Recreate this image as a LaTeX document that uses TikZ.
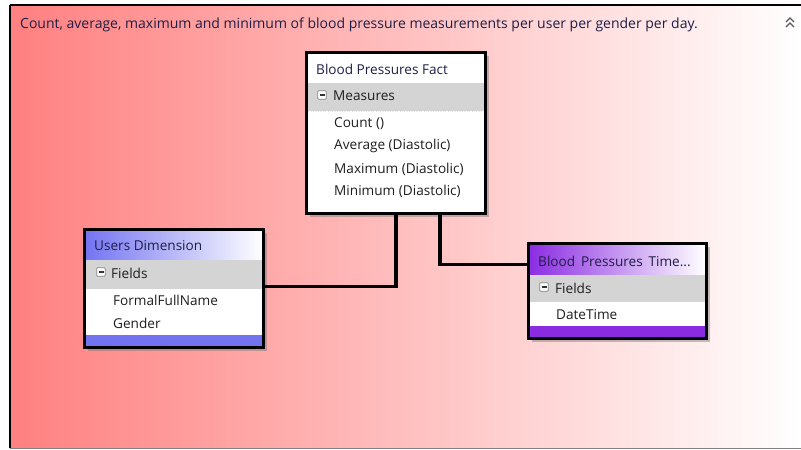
\documentclass[tikz,border=0pt]{standalone}
\usepackage{fontspec}
\setmainfont{Open Sans}
\usetikzlibrary{calc}
\definecolor{panelred}{RGB}{255,128,128}
\definecolor{bandgrey}{RGB}{212,212,212}
\definecolor{dimblue}{RGB}{115,115,242}
\definecolor{timepurple}{RGB}{138,43,226}
\definecolor{navytext}{RGB}{30,30,70}
\definecolor{itemtext}{RGB}{30,30,30}
\definecolor{shadowgrey}{RGB}{120,120,120}
\tikzset{
  boxframe/.style={draw=black, line width=3pt, fill=none, inner sep=0pt},
  boxshadow/.style={fill=shadowgrey, fill opacity=0.45, draw=none},
  link/.style={draw=black, line width=3.2pt},
  title/.style={anchor=west, inner sep=0pt, font=\fontsize{13.6}{15}\selectfont, text=navytext},
  item/.style={anchor=west, inner sep=0pt, font=\fontsize{13.6}{15}\selectfont, text=itemtext},
  caption/.style={anchor=west, inner sep=0pt, font=\fontsize{14}{16}\selectfont, text=navytext},
}
% small collapse box with a minus sign
\newcommand{\minusicon}[2]{%
  \draw[draw=gray, fill=white, line width=0.8pt, rounded corners=1pt] (#1-4.3,#2-4.3) rectangle (#1+4.3,#2+4.3);
  \draw[line width=1.2pt, black!80] (#1-2.5,#2) -- (#1+2.5,#2);}
\begin{document}
\begin{tikzpicture}[x=1pt,y=-1pt]
\useasboundingbox (0,0) rectangle (801,450);
\fill[white] (0,0) rectangle (801,450);
% panel background
\shade[left color=panelred, right color=white] (11,6) rectangle (801,448);
\draw[black, line width=2pt] (10,5) -- (801,5);
\draw[black, line width=2pt] (10,5) -- (10,448);
\draw[gray, line width=1.5pt] (10,448.5) -- (801,448.5);
\node[caption] (desc) at (20,24.5) {Count, average, maximum and minimum of blood pressure measurements per user per gender per day.};
% collapse chevrons
\node[inner sep=0pt, minimum size=10pt] (chev) at (790,23) {};
\draw[gray!70!black, line width=1.3pt] ($(chev)+(-4,-1)$) -- ($(chev)+(0,-5)$) -- ($(chev)+(4,-1)$);
\draw[gray!70!black, line width=1.3pt] ($(chev)+(-4,4)$) -- ($(chev)+(0,0)$) -- ($(chev)+(4,4)$);

% shadows
\fill[boxshadow] (310,56) rectangle (489,217);
\fill[boxshadow] (88,233) rectangle (267,351);
\fill[boxshadow] (532,247) rectangle (710,342);

% box outlines as named nodes, connectors between them
\node[minimum width=179pt, minimum height=161pt, inner sep=0pt] (fact) at (395.5,132.5) {};
\node[minimum width=179pt, minimum height=118pt, inner sep=0pt] (users) at (173.5,288) {};
\node[minimum width=178pt, minimum height=95pt, inner sep=0pt] (time) at (617,290.5) {};
\coordinate (factL) at ($(fact.south)+(0.5,0)$);
\coordinate (factR) at ($(fact.south)+(44.5,0)$);
\coordinate (timeIn) at ($(time.north west)+(0,22)$);
\coordinate (usersIn) at ($(users.north east)+(0,58)$);
\draw[link] (factL) |- (usersIn);
\draw[link] (factR) |- (timeIn);

% fact box
\fill[white] (fact.north west) rectangle (fact.south east);
\fill[bandgrey] (306,83) rectangle (485,111);
\draw[white!90!black, dotted] (306,111) -- (485,111);
\node[title] (factT) at (316,69) {Blood Pressures Fact};
\minusicon{322}{95}
\node[item] (factM) at (333,96) {Measures};
\node[item] (f1) at (334,124) {Count ()};
\node[item] (f2) at (334,146) {Average (Diastolic)};
\node[item] (f3) at (334,169) {Maximum (Diastolic)};
\node[item] (f4) at (334,191) {Minimum (Diastolic)};
\node[boxframe, minimum width=179pt, minimum height=161pt] at (fact) {};

% users dimension box
\fill[white] (users.north west) rectangle (users.south east);
\shade[left color=dimblue, right color=white] (84,229) rectangle (263,260);
\fill[bandgrey] (84,260) rectangle (263,289);
\fill[dimblue] (84,335) rectangle (263,347);
\node[title] (usersT) at (94,246) {Users Dimension};
\minusicon{101}{272}
\node[item] (usersF) at (111,273) {Fields};
\node[item] (u1) at (113,300) {FormalFullName};
\node[item] (u2) at (113,323) {Gender};
\node[boxframe, minimum width=179pt, minimum height=118pt] at (users) {};

% time box
\fill[white] (time.north west) rectangle (time.south east);
\shade[left color=timepurple, right color=white] (528,243) rectangle (706,275);
\fill[bandgrey] (528,275) rectangle (706,302);
\fill[timepurple] (528,326) rectangle (706,338);
\node[title] (timeT) at (538,261) {Blood\ \,Pressures\ \,Time...};
\minusicon{544}{287}
\node[item] (timeF) at (555,288) {Fields};
\node[item] (t1) at (556,315) {DateTime};
\node[boxframe, minimum width=178pt, minimum height=95pt] at (time) {};
\end{tikzpicture}
\end{document}
